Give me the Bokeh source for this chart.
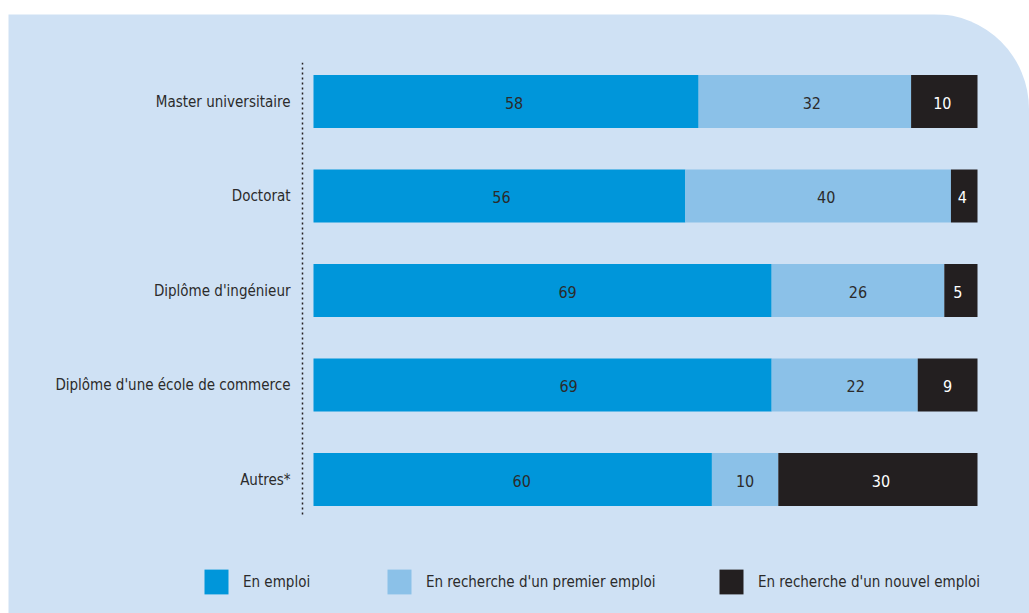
from bokeh.plotting import figure
from bokeh.models import Range1d, Legend, LegendItem, ColumnDataSource
from bokeh.core.properties import value
from bokeh.embed import file_html
from bokeh.resources import INLINE

categories = ["Master universitaire", "Doctorat", "Diplôme d'ingénieur",
              "Diplôme d'une école de commerce", "Autres*"]
en_emploi = [58, 56, 69, 69, 60]
premier_emploi = [32, 40, 26, 22, 10]
nouvel_emploi = [10, 4, 5, 9, 30]
series_names = ["En emploi", "En recherche d'un premier emploi", "En recherche d'un nouvel emploi"]

PANEL = "#cfe1f4"
COLORS = ["#0096da", "#8bc1e8", "#231f20"]
TEXT_COLORS = ["#2b2b2b", "#2b2b2b", "#ffffff"]
FONT = "DejaVu Sans Condensed"
# small horizontal nudges (px) of the value labels, as placed in the original
LABEL_NUDGE = [[8, 2, 25, 26, 9], [7, 8, 0, 11, 0], [-2, -2, -3, 0, 3]]

W, H = 1021, 599
PX_X = 6.64          # pixels per percentage point
X0_PX = 305          # pixel position of 0 %
PX_Y = 94.5          # pixels between bars
TOP_PX = 87          # pixel position of first bar centre

n = len(categories)
ypos = [n - 1 - i for i in range(n)]

x_start = -X0_PX / PX_X
x_end = (W - X0_PX) / PX_X
y_end = (n - 1) + TOP_PX / PX_Y
y_start = (n - 1) - (H - TOP_PX) / PX_Y

p = figure(width=W, height=H, output_backend="svg", toolbar_location=None,
           x_range=Range1d(x_start, x_end), y_range=Range1d(y_start, y_end),
           x_axis_location=None, y_axis_location=None,
           min_border_left=0, min_border_right=0, min_border_top=0, min_border_bottom=0)
p.styles = {"margin-top": "14px", "margin-left": "8px",
            "border-top-right-radius": "95px", "overflow": "hidden"}
p.background_fill_color = PANEL
p.border_fill_color = PANEL
p.outline_line_color = None
p.xgrid.visible = False
p.ygrid.visible = False

# dotted vertical axis line
axis_x = -11 / PX_X
p.segment(x0=[axis_x], x1=[axis_x], y0=[-0.37], y1=[(n - 1) + 0.41],
          line_color="#231f20", line_width=1.5, line_dash="2 3")

# category labels
p.text(x=[0] * n, y=ypos, text=categories, x_offset=-23, text_align="right",
       text_baseline="middle", text_font=value(FONT), text_font_size="15px",
       text_color="#2b2b2b")

series = [en_emploi, premier_emploi, nouvel_emploi]
lefts = [0] * n
renderers = []
for k, vals in enumerate(series):
    rights = [l + v for l, v in zip(lefts, vals)]
    src = ColumnDataSource(dict(y=ypos, left=lefts, right=rights,
                                mid=[(l + r) / 2 for l, r in zip(lefts, rights)],
                                lab=[str(v) for v in vals], dx=LABEL_NUDGE[k]))
    r = p.hbar(y="y", left="left", right="right", height=0.56, source=src,
               fill_color=COLORS[k], line_color=None)
    renderers.append(r)
    p.text(x="mid", y="y", text="lab", source=src, x_offset="dx", y_offset=1,
           text_align="center", text_baseline="middle", text_font=value(FONT),
           text_font_size="16px", text_color=TEXT_COLORS[k])
    lefts = rights

legend_x = [193, 376, 708]
for k in range(3):
    lg = Legend(items=[LegendItem(label=series_names[k], renderers=[renderers[k]])],
                location=(legend_x[k], 16), orientation="horizontal",
                glyph_width=30, glyph_height=31, label_standoff=12,
                padding=0, margin=0, border_line_color=None,
                background_fill_alpha=0, label_text_font=FONT,
                label_text_font_size="15px", label_text_color="#2b2b2b")
    p.add_layout(lg, "center")

open("out.html", "w").write(file_html(p, INLINE))
